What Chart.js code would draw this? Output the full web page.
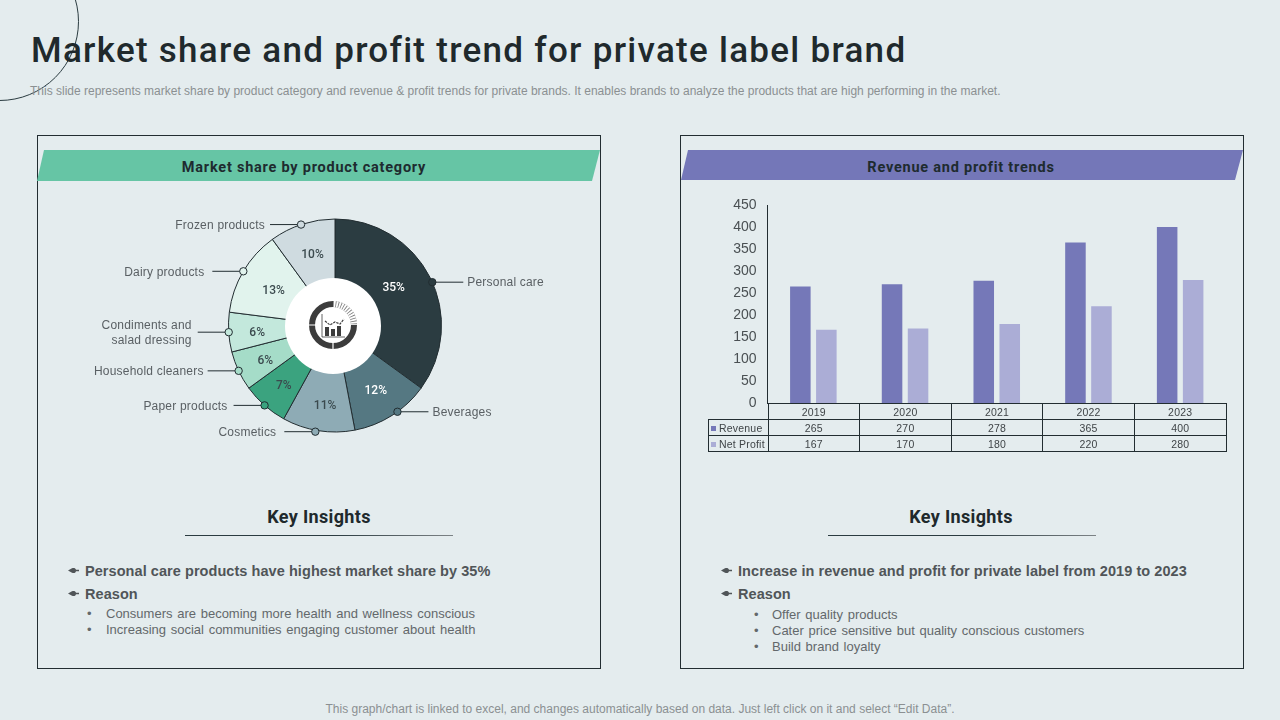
<!DOCTYPE html>
<html>
<head>
<meta charset="utf-8">
<script src="https://cdn.jsdelivr.net/npm/chart.js@4/dist/chart.umd.min.js"></script>
<style>
  html, body { margin: 0; padding: 0; }
  body { width: 1280px; height: 720px; background: #e4ecee; overflow: hidden; position: relative; font-family: "Liberation Sans", Arial, sans-serif; }
  .abs { position: absolute; white-space: nowrap; }
  #deco { left: -80px; top: -58px; width: 157px; height: 157px; border: 1px solid #2b3c41; border-radius: 50%; }
  #title { left: 31px; top: 29px; font: 500 35px/44px Roboto, sans-serif; letter-spacing: 1.28px; color: #20292c; }
  #sub { left: 30px; top: 84px; font-size: 12px; line-height: 15px; color: #8b9092; }
  #foot { left: 0; width: 1280px; text-align: center; top: 702px; font-size: 12px; line-height: 15px; color: #8b9092; }
  .card { width: 562px; height: 532px; top: 135px; border: 1px solid #222d31; box-sizing: content-box; }
  .banner { top: 150px; height: 31px; font: 700 14.5px/35px Roboto, sans-serif; letter-spacing: .77px; color: #1e2b2f; text-align: center; clip-path: polygon(7px 0, 100% 0, calc(100% - 8px) 100%, 0 100%); box-sizing: border-box; }
  .kh { top: 506px; width: 268px; text-align: center; font: 700 18px/22px Roboto, sans-serif; letter-spacing: .35px; color: #20292c; }
  .rule { top: 535px; width: 268px; height: 1px; background: linear-gradient(90deg, #2b3c41 0, #2b3c41 55%, #7d8386 100%); }
  .b1 { font-weight: 700; font-size: 14.5px; line-height: 18px; color: #505558; letter-spacing: .06px; }
  .b2 { font-size: 13px; line-height: 16px; color: #63686b; word-spacing: 1.1px; }
  canvas { position: absolute; }
  #pieChart { left: 68.5px; top: 200px; }
  #hole { left: 285px; top: 277.5px; width: 96px; height: 96px; background: #fff; border-radius: 50%; }
  #icon { left: 306px; top: 298px; width: 54px; height: 54px; }
  #barChart { left: 700px; top: 190px; }
  table { position: absolute; left: 708px; top: 403px; border-collapse: collapse; table-layout: fixed; width: 518.5px; font-size: 10.5px; color: #3f4447; }
  td { border: 1px solid #222d31; height: 15.1px; padding: 0; text-align: center; line-height: 14px; letter-spacing: .2px; }
  td.none { border: 0; }
  td.name { text-align: left; padding-left: 2px; white-space: nowrap; }
  td.name i { display: inline-block; width: 5px; height: 5px; margin-right: 3px; vertical-align: 1px; }
</style>
</head>
<body>
<div class="abs" id="deco"></div>
<div class="abs" id="title">Market share and profit trend for private label brand</div>
<div class="abs" id="sub">This slide represents market share by product category and revenue &amp; profit trends for private brands. It enables brands to analyze the products that are high performing in the market.</div>

<div class="abs card" style="left:37px"></div>
<div class="abs card" style="left:680px"></div>
<div class="abs banner" style="left:37px;width:563px;background:#66c5a5;padding-right:29px">Market share by product category</div>
<div class="abs banner" style="left:681px;width:562px;background:#7477b8;height:30px;padding-right:2px">Revenue and profit trends</div>

<canvas id="pieChart" width="532" height="251"></canvas>
<div class="abs" id="hole"></div>
<svg class="abs" id="icon" viewBox="0 0 54 54">
  <circle cx="27" cy="27" r="21" fill="none" stroke="#3c3c3c" stroke-width="6"/>
  <path d="M27 6A21 21 0 0 1 48 27" fill="none" stroke="#fff" stroke-width="6.5"/>
  <path d="M27 6A21 21 0 0 1 48 27" fill="none" stroke="#777" stroke-width="6" stroke-dasharray=".8 1.8"/>
  <path d="M3 27h7M27 44v7" stroke="#fff" stroke-width="1.2"/>
  <path d="M16 16v23h23" fill="none" stroke="#3c3c3c" stroke-width=".8"/>
  <path d="M19 23l5 4 5-3 5 2 4-5" fill="none" stroke="#3c3c3c" stroke-width="1.2" stroke-dasharray="2.4 1"/>
  <path d="M19 29h4v9h-4zM25 31h4v7h-4zM31 28h4v10h-4z" fill="#3c3c3c"/>
</svg>

<canvas id="barChart" width="540" height="220"></canvas>
<table id="dataTable"></table>

<div class="abs kh" style="left:185px">Key Insights</div>
<div class="abs rule" style="left:185px"></div>
<div class="abs kh" style="left:827px">Key Insights</div>
<div class="abs rule" style="left:828px"></div>

<div id="insights"></div>
<div class="abs" id="foot">This graph/chart is linked to excel, and changes automatically based on data. Just left click on it and select “Edit Data”.</div>

<script>
// market share
const categories = ['Personal care', 'Beverages', 'Cosmetics', 'Paper products', 'Household cleaners', 'Condiments and|salad dressing', 'Dairy products', 'Frozen products'];
const shares = [35, 12, 11, 7, 6, 6, 13, 10];
const sliceColors = ['#2b3c41', '#557882', '#8eabb5', '#3ba37f', '#a5dcc8', '#c3e8dc', '#e1f3ed', '#cfdbe0'];
const pctColors = ['#ffffff', '#ffffff', '#3b4a4e', '#3b4a4e', '#3b4a4e', '#3b4a4e', '#3b4a4e', '#3b4a4e'];

// revenue and profit
const years = ['2019', '2020', '2021', '2022', '2023'];
const revenue = [265, 270, 278, 365, 400];
const netProfit = [167, 170, 180, 220, 280];

// nudges for the callouts, the originals are placed by hand
const dotAngleShift = [3, -3.5, 1.5, 0, 0, 0, 0, -0.6];
const dotRadiusShift = [0, 0, 1.5, 0, 0, 0, 0, 0];
const pctShift = [[-9, -3], [0, 1], [2, 5], [-1, 3], [-1, 3], [-2, 3], [4, 4], [1, 2]];
const nameShift = [-2, -2, -2, 0, 2, 0, -2, 1];

const calloutsPlugin = {
    id: 'callouts',
    afterDatasetsDraw(chart) {
        const c = chart.ctx;
        chart.getDatasetMeta(0).data.forEach((arc, i) => {
            const p = arc.getProps(['x', 'y', 'startAngle', 'endAngle', 'outerRadius']);
            const mid = (p.startAngle + p.endAngle) / 2;

            // percent label inside the slice
            const px = p.x + Math.cos(mid) * 76 + pctShift[i][0];
            const py = p.y + Math.sin(mid) * 76 + pctShift[i][1];
            c.font = '500 12px Roboto';
            c.letterSpacing = '0px';
            c.fillStyle = pctColors[i];
            c.textAlign = 'center';
            c.textBaseline = 'middle';
            c.fillText(shares[i] + '%', px, py);

            // dot on the rim, leader line and category name
            const a = mid + dotAngleShift[i] * Math.PI / 180;
            const r = p.outerRadius + dotRadiusShift[i];
            const dx = p.x + Math.cos(a) * r;
            const dy = p.y + Math.sin(a) * r;
            const dir = Math.cos(a) >= 0 ? 1 : -1;
            c.strokeStyle = '#222d31';
            c.lineWidth = 1;
            c.beginPath();
            c.moveTo(dx + dir * 3, dy);
            c.lineTo(dx + dir * 31, dy);
            c.stroke();
            c.beginPath();
            c.arc(dx, dy, 3.7, 0, Math.PI * 2);
            c.fillStyle = sliceColors[i];
            c.fill();
            c.stroke();

            c.font = '12px "Liberation Sans"';
            c.letterSpacing = '0.2px';
            c.fillStyle = '#5a6064';
            c.textAlign = dir > 0 ? 'left' : 'right';
            const lines = categories[i].split('|');
            lines.forEach((line, n) => {
                c.fillText(line, dx + dir * 37 + nameShift[i], dy + 1 + (n - (lines.length - 1) / 2) * 14.4);
            });
        });
    }
};

new Chart(document.getElementById('pieChart'), {
    type: 'doughnut',
    plugins: [calloutsPlugin],
    data: {
        labels: categories,
        datasets: [{
            data: shares,
            backgroundColor: sliceColors,
            borderColor: '#222d31',
            borderWidth: 1,
            borderJoinStyle: 'miter'
        }]
    },
    options: {
        responsive: false,
        animation: false,
        radius: 106.5,
        cutout: 40,
        plugins: { legend: { display: false }, tooltip: { enabled: false } }
    }
});

new Chart(document.getElementById('barChart'), {
    type: 'bar',
    data: {
        labels: years,
        datasets: [
            { label: 'Revenue', data: revenue, backgroundColor: '#7578b8' },
            { label: 'Net Profit', data: netProfit, backgroundColor: '#abadd6' }
        ]
    },
    options: {
        responsive: false,
        animation: false,
        layout: { padding: { top: 15, bottom: 6.7, right: 14 } },
        datasets: { bar: { categoryPercentage: 0.567, barPercentage: 0.79 } },
        scales: {
            x: {
                afterFit(scale) { scale.height = 0; scale.paddingLeft = 0; scale.paddingRight = 0; },
                grid: { display: false },
                border: { color: '#222d31' },
                ticks: { display: false }
            },
            y: {
                min: 0,
                max: 450,
                afterFit(scale) { scale.width = 67.5; scale.paddingTop = 0; scale.paddingBottom = 0; },
                grid: { display: false, drawTicks: false },
                border: { color: '#222d31' },
                ticks: { stepSize: 50, padding: 11, color: '#4a5053', font: { family: 'Liberation Sans', size: 14 } }
            }
        },
        plugins: { legend: { display: false }, tooltip: { enabled: false } }
    }
});

// data table under the bars
const tableRows = [
    ['', null, years],
    ['Revenue', '#7578b8', revenue],
    ['Net Profit', '#abadd6', netProfit]
];
document.getElementById('dataTable').innerHTML =
    '<colgroup><col style="width:59.5px">' + years.map(() => '<col>').join('') + '</colgroup>' +
    tableRows.map(([name, color, vals]) =>
        '<tr>' + (name ? `<td class="name"><i style="background:${color}"></i>${name}</td>` : '<td class="none"></td>') +
        vals.map(v => `<td>${v}</td>`).join('') + '</tr>'
    ).join('');

// key insights text
const insights = [
    ['b1', 68, 85, 562, 'Personal care products have highest market share by 35%'],
    ['b1', 68, 85, 585, 'Reason'],
    ['b2', 87, 106, 606, 'Consumers are becoming more health and wellness conscious'],
    ['b2', 87, 106, 622, 'Increasing social communities engaging customer about health'],
    ['b1', 721, 738, 562, 'Increase in revenue and profit for private label from 2019 to 2023'],
    ['b1', 721, 738, 585, 'Reason'],
    ['b2', 754, 772, 607, 'Offer quality products'],
    ['b2', 754, 772, 623, 'Cater price sensitive but quality conscious customers'],
    ['b2', 754, 772, 639, 'Build brand loyalty']
];
const nib = '<svg viewBox="0 0 11 7" style="display:block;width:11px;height:7px"><path d="M0 3.5L4 1.2C6 .6 7.500 1 8 2.800H11V4.200H8C7.500 6 6 6.400 4 5.800Z" fill="#505558"/></svg>';
document.getElementById('insights').innerHTML = insights.map(([cls, bx, tx, y, text]) => {
    const mark = cls === 'b1'
        ? `<div class="abs" style="left:${bx}px;top:${y + 5}px">${nib}</div>`
        : `<div class="abs b2" style="left:${bx}px;top:${y}px">•</div>`;
    return mark + `<div class="abs ${cls}" style="left:${tx}px;top:${y}px">${text}</div>`;
}).join('');
</script>
</body>
</html>
